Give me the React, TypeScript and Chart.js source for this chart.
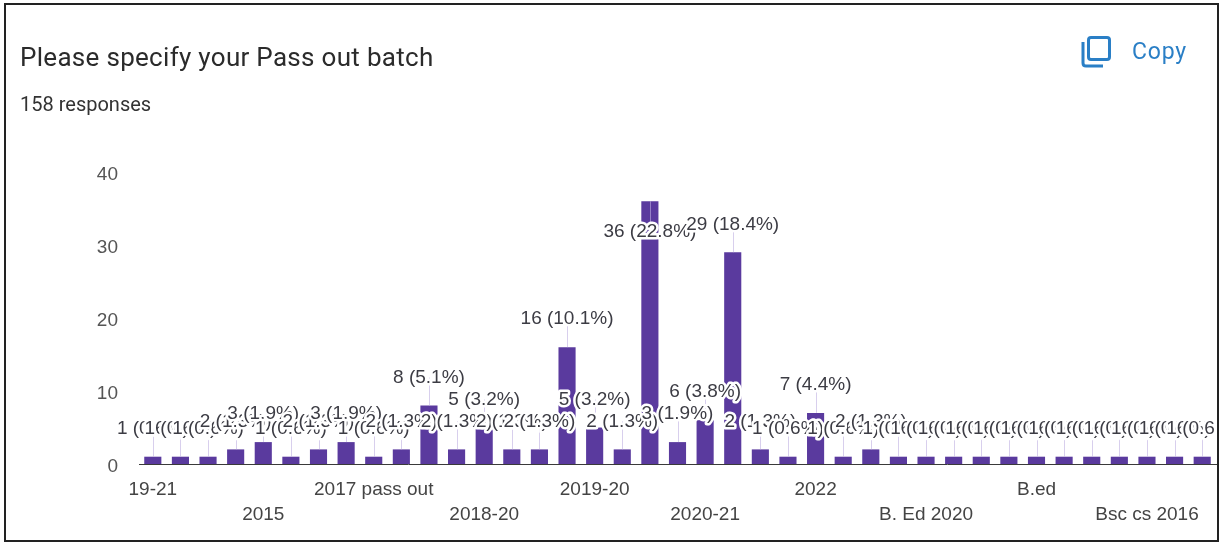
import React, { useEffect, useRef } from "react";
import { Chart, registerables } from "chart.js";

Chart.register(...registerables);

const TITLE = "Please specify your Pass out batch";
const RESPONSES = "158 responses";
const COPY = "Copy";

const categories = [
  "19-21", "", "", "", "2015", "", "", "", "2017 pass out", "", "", "", "2018-20",
  "", "", "", "2019-20", "", "", "", "2020-21", "", "", "", "2022", "", "", "",
  "B. Ed 2020", "", "", "", "B.ed", "", "", "", "Bsc cs 2016", "", "",
];
const counts = [
  1, 1, 1, 2, 3, 1, 2, 3, 1, 2, 8, 2, 5, 2, 2, 16, 5, 2, 36, 3, 6, 29, 2, 1, 7,
  1, 2, 1, 1, 1, 1, 1, 1, 1, 1, 1, 1, 1, 1,
];
const percents = [
  "0.6", "0.6", "0.6", "1.3", "1.9", "0.6", "1.3", "1.9", "0.6", "1.3", "5.1", "1.3", "3.2",
  "1.3", "1.3", "10.1", "3.2", "1.3", "22.8", "1.9", "3.8", "18.4", "1.3", "0.6", "4.4",
  "0.6", "1.3", "0.6", "0.6", "0.6", "0.6", "0.6", "0.6", "0.6", "0.6", "0.6", "0.6", "0.6", "0.6",
];

const FONT = '"Liberation Sans", Arial, sans-serif';
const UI_FONT = 'Roboto, "Noto Sans", sans-serif';
const BAR = "#5a3a9e";
const STEM_UP = 28;
const STEM_DOWN = 31;

const labelY = (barY: number, top: number) =>
  barY - STEM_UP >= top + 6 ? barY - STEM_UP : barY + STEM_DOWN;

const annotations = {
  id: "annotations",
  afterDatasetsDraw(chart: any) {
    const { ctx, chartArea } = chart;
    const bars = chart.getDatasetMeta(0).data;
    ctx.save();
    ctx.beginPath();
    ctx.rect(0, 0, chartArea.right - 2, chart.height);
    ctx.clip();
    ctx.font = `19px ${FONT}`;
    ctx.textAlign = "center";
    ctx.textBaseline = "middle";
    ctx.lineJoin = "round";
    bars.forEach((bar: any) => {
      const y = labelY(bar.y, chartArea.top);
      ctx.strokeStyle = "rgba(190,175,225,0.6)";
      ctx.lineWidth = 1;
      ctx.beginPath();
      ctx.moveTo(Math.round(bar.x) + 0.5, bar.y);
      ctx.lineTo(Math.round(bar.x) + 0.5, y);
      ctx.stroke();
    });
    bars.forEach((bar: any, i: number) => {
      const y = labelY(bar.y, chartArea.top);
      const text = `${counts[i]} (${percents[i]}%)`;
      ctx.strokeStyle = "#ffffff";
      ctx.lineWidth = 5;
      ctx.strokeText(text, bar.x, y);
      ctx.fillStyle = "#3c3c44";
      ctx.fillText(text, bar.x, y);
    });
    ctx.restore();
  },
};

export default function App() {
  const ref = useRef<HTMLCanvasElement>(null);
  useEffect(() => {
    const chart = new Chart(ref.current as HTMLCanvasElement, {
      type: "bar",
      data: {
        labels: categories,
        datasets: [
          {
            data: counts,
            backgroundColor: BAR,
            barPercentage: 0.62,
            categoryPercentage: 1,
          },
        ],
      },
      options: {
        responsive: false,
        animation: false,
        layout: { padding: { left: 79, right: 6, top: 172, bottom: 0 } },
        plugins: { legend: { display: false }, tooltip: { enabled: false } },
        scales: {
          x: {
            offset: true,
            grid: { display: false, drawTicks: false },
            border: { color: "#3a3a3a", width: 1 },
            afterFit: (s: any) => {
              s.height = 543 - 464;
            },
            ticks: {
              autoSkip: false,
              maxRotation: 0,
              minRotation: 0,
              padding: 13,
              color: "#444",
              font: { family: FONT, size: 19, lineHeight: "25px" as any },
              callback: (_v: any, i: number) => {
                const l = categories[i];
                if (!l) return "";
                return i % 8 === 0 ? l : ["", l];
              },
            },
          },
          y: {
            min: 0,
            max: 40,
            grid: { display: false, drawTicks: false },
            border: { display: false },
            afterFit: (s: any) => {
              s.width = 60;
            },
            ticks: {
              stepSize: 10,
              padding: 21,
              color: "#555",
              font: { family: FONT, size: 19, lineHeight: "6px" as any },
              callback: (v: any) => ["", String(v)],
            },
          },
        },
      },
      plugins: [annotations],
    } as any);
    return () => chart.destroy();
  }, []);

  return (
    <div style={{ position: "absolute", left: 0, top: 0, width: 1222, height: 543, background: "#fff", overflow: "hidden" }}>
      <canvas ref={ref} width={1222} height={543} style={{ position: "absolute", left: 0, top: 0, display: "block" }} />
      <div style={{ position: "absolute", left: 4, top: 3, width: 1215, height: 539, border: "2px solid #222", boxSizing: "border-box", pointerEvents: "none" }} />
      <div style={{ position: "absolute", left: 20, top: 41, font: `26px ${UI_FONT}`, lineHeight: "32px", letterSpacing: 0.3, color: "#2b2b2b", whiteSpace: "nowrap" }}>{TITLE}</div>
      <div style={{ position: "absolute", left: 20, top: 92, font: `20px ${UI_FONT}`, lineHeight: "24px", color: "#333", whiteSpace: "nowrap" }}>{RESPONSES}</div>
      <svg width={34} height={34} style={{ position: "absolute", left: 1080, top: 35 }} fill="none" stroke="#2a7fc6" strokeWidth={3}>
        <rect x={8.5} y={2.5} width={21} height={22} rx={2.5} />
        <path d="M3 7 V28 Q3 31 6 31 H23" />
      </svg>
      <div style={{ position: "absolute", left: 1132, top: 37, font: `23px ${UI_FONT}`, lineHeight: "30px", color: "#2a7fc6", letterSpacing: 0.8, whiteSpace: "nowrap" }}>{COPY}</div>
    </div>
  );
}
